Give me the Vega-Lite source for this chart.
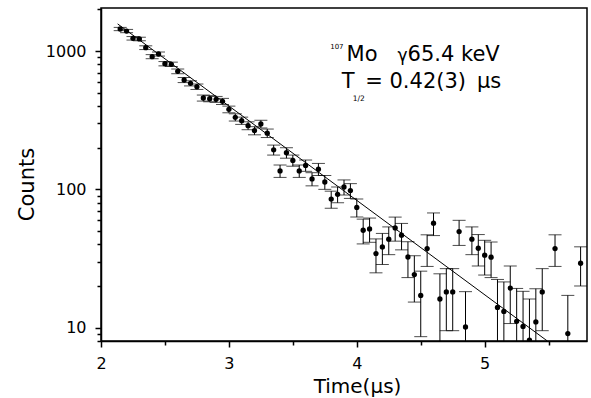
{
  "$schema": "https://vega.github.io/schema/vega-lite/v6.json",
  "width": 486,
  "height": 333,
  "autosize": {"type": "none"},
  "padding": {"left": 101, "top": 8, "right": 4, "bottom": 57},
  "background": "white",
  "config": {
    "view": {"stroke": "black", "strokeWidth": 1.5},
    "font": "DejaVu Sans",
    "axis": {
      "grid": false,
      "domainColor": "black",
      "domainWidth": 1.5,
      "tickColor": "black",
      "tickWidth": 1.5,
      "labelColor": "black",
      "titleColor": "black",
      "labelFont": "DejaVu Sans",
      "titleFont": "DejaVu Sans",
      "labelFontSize": 16,
      "titleFontSize": 20,
      "titleFontWeight": "normal"
    }
  },
  "datasets": {
    "pts": [
      {"t": 2.15, "n": 1445, "lo": 1406, "hi": 1484},
      {"t": 2.20, "n": 1397, "lo": 1359, "hi": 1435},
      {"t": 2.25, "n": 1238, "lo": 1202, "hi": 1274},
      {"t": 2.30, "n": 1224, "lo": 1188, "hi": 1260},
      {"t": 2.35, "n": 1059, "lo": 1026, "hi": 1092},
      {"t": 2.40, "n": 912, "lo": 881, "hi": 943},
      {"t": 2.45, "n": 953, "lo": 921, "hi": 985},
      {"t": 2.50, "n": 811, "lo": 782, "hi": 840},
      {"t": 2.55, "n": 803, "lo": 774, "hi": 832},
      {"t": 2.60, "n": 714, "lo": 686, "hi": 742},
      {"t": 2.65, "n": 618, "lo": 592, "hi": 644},
      {"t": 2.70, "n": 585, "lo": 560, "hi": 610},
      {"t": 2.75, "n": 553, "lo": 528, "hi": 578},
      {"t": 2.80, "n": 458, "lo": 435, "hi": 481},
      {"t": 2.85, "n": 453, "lo": 430, "hi": 476},
      {"t": 2.90, "n": 448, "lo": 426, "hi": 470},
      {"t": 2.95, "n": 433, "lo": 411, "hi": 455},
      {"t": 3.00, "n": 379, "lo": 358, "hi": 400},
      {"t": 3.05, "n": 332, "lo": 312, "hi": 352},
      {"t": 3.10, "n": 314, "lo": 295, "hi": 333},
      {"t": 3.15, "n": 289, "lo": 270, "hi": 308},
      {"t": 3.20, "n": 266, "lo": 248, "hi": 284},
      {"t": 3.25, "n": 297, "lo": 278, "hi": 316},
      {"t": 3.30, "n": 255, "lo": 237, "hi": 273},
      {"t": 3.35, "n": 193, "lo": 177, "hi": 209},
      {"t": 3.40, "n": 136, "lo": 122, "hi": 150},
      {"t": 3.45, "n": 184, "lo": 168, "hi": 200},
      {"t": 3.50, "n": 162, "lo": 147, "hi": 177},
      {"t": 3.55, "n": 136, "lo": 122, "hi": 150},
      {"t": 3.60, "n": 149, "lo": 135, "hi": 163},
      {"t": 3.65, "n": 119, "lo": 106, "hi": 132},
      {"t": 3.70, "n": 140, "lo": 126, "hi": 154},
      {"t": 3.75, "n": 113, "lo": 100, "hi": 126},
      {"t": 3.80, "n": 85, "lo": 73, "hi": 97},
      {"t": 3.85, "n": 92, "lo": 80, "hi": 104},
      {"t": 3.90, "n": 104, "lo": 91, "hi": 117},
      {"t": 3.95, "n": 98, "lo": 86, "hi": 110},
      {"t": 4.00, "n": 74, "lo": 63, "hi": 85},
      {"t": 4.05, "n": 50.6, "lo": 40.3, "hi": 60.9},
      {"t": 4.10, "n": 51.7, "lo": 41.4, "hi": 62.0},
      {"t": 4.15, "n": 34.3, "lo": 24.9, "hi": 43.8},
      {"t": 4.20, "n": 38.3, "lo": 28.6, "hi": 48.0},
      {"t": 4.25, "n": 43.6, "lo": 33.7, "hi": 53.5},
      {"t": 4.30, "n": 52.6, "lo": 42.2, "hi": 63.0},
      {"t": 4.35, "n": 46.6, "lo": 36.5, "hi": 56.7},
      {"t": 4.40, "n": 32.4, "lo": 23.0, "hi": 41.8},
      {"t": 4.45, "n": 24.2, "lo": 15.3, "hi": 33.1},
      {"t": 4.50, "n": 17.1, "lo": 8.6, "hi": 25.6},
      {"t": 4.55, "n": 37.3, "lo": 27.7, "hi": 46.9},
      {"t": 4.60, "n": 56.9, "lo": 46.3, "hi": 67.5},
      {"t": 4.65, "n": 16.1, "lo": 7.7, "hi": 24.5},
      {"t": 4.70, "n": 18.1, "lo": 9.5, "hi": 26.7},
      {"t": 4.75, "n": 18.1, "lo": 9.5, "hi": 26.7},
      {"t": 4.80, "n": 49.5, "lo": 39.3, "hi": 59.7},
      {"t": 4.85, "n": 10.1, "lo": 2.0, "hi": 18.2},
      {"t": 4.90, "n": 43.6, "lo": 33.7, "hi": 53.5},
      {"t": 4.95, "n": 37.5, "lo": 27.9, "hi": 47.1},
      {"t": 5.00, "n": 33.4, "lo": 24.0, "hi": 42.8},
      {"t": 5.05, "n": 32.3, "lo": 23.0, "hi": 41.6},
      {"t": 5.10, "n": 14.0, "lo": 5.7, "hi": 22.3},
      {"t": 5.15, "n": 13.1, "lo": 4.8, "hi": 21.4},
      {"t": 5.20, "n": 19.3, "lo": 10.7, "hi": 27.9},
      {"t": 5.25, "n": 11.1, "lo": 3.0, "hi": 19.2},
      {"t": 5.30, "n": 10.2, "lo": 2.1, "hi": 18.3},
      {"t": 5.35, "n": 8.1, "lo": 1, "hi": 16.1},
      {"t": 5.40, "n": 11.0, "lo": 2.9, "hi": 19.1},
      {"t": 5.45, "n": 18.1, "lo": 9.5, "hi": 26.7},
      {"t": 5.55, "n": 37.3, "lo": 27.7, "hi": 46.9},
      {"t": 5.65, "n": 9.05, "lo": 1.05, "hi": 17.1},
      {"t": 5.75, "n": 29.2, "lo": 20.0, "hi": 38.4}
    ],
    "fit": [
      {"t": 2.13, "n": 1573},
      {"t": 5.49, "n": 8}
    ],
    "one": [{}]
  },
  "layer": [
    {
      "data": {"name": "pts"},
      "mark": {"type": "rule", "color": "black", "strokeWidth": 1, "clip": true},
      "encoding": {
        "x": {
          "field": "t", "type": "quantitative",
          "scale": {"domain": [2, 5.8], "nice": false, "zero": false},
          "axis": {
            "title": "Time(μs)",
            "values": [2, 2.5, 3, 3.5, 4, 4.5, 5, 5.5],
            "labelExpr": "datum.value % 1 === 0 ? format(datum.value, 'd') : ''",
            "labelFlush": false,
            "labelOverlap": false,
            "labelPadding": 8,
            "tickSize": {"condition": {"test": "datum.value % 1 === 0", "value": 6}, "value": 4},
            "titleX": 256,
            "titleY": 51,
            "titleAlign": "center",
            "titleBaseline": "alphabetic"
          }
        },
        "y": {
          "field": "lo", "type": "quantitative",
          "scale": {"type": "log", "domain": [8, 2050], "nice": false},
          "axis": {
            "title": "Counts",
            "values": [8, 9, 10, 20, 30, 40, 50, 60, 70, 80, 90, 100, 200, 300, 400, 500, 600, 700, 800, 900, 1000, 2000],
            "labelExpr": "(datum.value == 10 || datum.value == 100 || datum.value == 1000) ? format(datum.value, 'd') : ''",
            "labelOverlap": false,
            "labelPadding": 9,
            "tickSize": {"condition": {"test": "datum.value == 10 || datum.value == 100 || datum.value == 1000", "value": 6}, "value": 4},
            "titleX": -68,
            "titleY": 176,
            "titleAngle": -90,
            "titleAlign": "center",
            "titleBaseline": "alphabetic",
            "titleFontSize": 21
          }
        },
        "y2": {"field": "hi"}
      }
    },
    {
      "data": {"name": "pts"},
      "mark": {"type": "tick", "orient": "horizontal", "color": "black", "size": 13, "thickness": 1, "clip": true},
      "encoding": {
        "x": {"field": "t", "type": "quantitative"},
        "y": {"field": "lo", "type": "quantitative"}
      }
    },
    {
      "data": {"name": "pts"},
      "mark": {"type": "tick", "orient": "horizontal", "color": "black", "size": 13, "thickness": 1, "clip": true},
      "encoding": {
        "x": {"field": "t", "type": "quantitative"},
        "y": {"field": "hi", "type": "quantitative"}
      }
    },
    {
      "data": {"name": "fit"},
      "mark": {"type": "line", "color": "black", "strokeWidth": 1, "clip": true},
      "encoding": {
        "x": {"field": "t", "type": "quantitative"},
        "y": {"field": "n", "type": "quantitative"}
      }
    },
    {
      "data": {"name": "pts"},
      "mark": {"type": "point", "filled": true, "color": "black", "size": 28, "opacity": 1, "clip": true},
      "encoding": {
        "x": {"field": "t", "type": "quantitative"},
        "y": {"field": "n", "type": "quantitative"}
      }
    },
    {
      "data": {"name": "one"},
      "mark": {"type": "text", "align": "left", "baseline": "alphabetic", "font": "DejaVu Sans", "fontSize": 7, "color": "black"},
      "encoding": {"x": {"datum": 3.792}, "y": {"datum": 1035}, "text": {"value": "107"}}
    },
    {
      "data": {"name": "one"},
      "mark": {"type": "text", "align": "left", "baseline": "alphabetic", "font": "DejaVu Sans", "fontSize": 21, "color": "black"},
      "encoding": {"x": {"datum": 3.92}, "y": {"datum": 853}, "text": {"value": "Mo"}}
    },
    {
      "data": {"name": "one"},
      "mark": {"type": "text", "align": "left", "baseline": "alphabetic", "font": "DejaVu Sans", "fontSize": 17, "color": "black"},
      "encoding": {"x": {"datum": 4.319}, "y": {"datum": 853}, "text": {"value": "γ"}}
    },
    {
      "data": {"name": "one"},
      "mark": {"type": "text", "align": "left", "baseline": "alphabetic", "font": "DejaVu Sans", "fontSize": 21, "color": "black"},
      "encoding": {"x": {"datum": 4.397}, "y": {"datum": 853}, "text": {"value": "65.4 keV"}}
    },
    {
      "data": {"name": "one"},
      "mark": {"type": "text", "align": "left", "baseline": "alphabetic", "font": "DejaVu Sans", "fontSize": 21, "color": "black"},
      "encoding": {"x": {"datum": 3.883}, "y": {"datum": 538}, "text": {"value": "T"}}
    },
    {
      "data": {"name": "one"},
      "mark": {"type": "text", "align": "left", "baseline": "alphabetic", "font": "DejaVu Sans", "fontSize": 7.5, "color": "black"},
      "encoding": {"x": {"datum": 3.969}, "y": {"datum": 437}, "text": {"value": "1/2"}}
    },
    {
      "data": {"name": "one"},
      "mark": {"type": "text", "align": "left", "baseline": "alphabetic", "font": "DejaVu Sans", "fontSize": 21, "color": "black"},
      "encoding": {"x": {"datum": 4.066}, "y": {"datum": 538}, "text": {"value": "= 0.42(3)"}}
    },
    {
      "data": {"name": "one"},
      "mark": {"type": "text", "align": "left", "baseline": "alphabetic", "font": "DejaVu Sans", "fontSize": 21, "color": "black"},
      "encoding": {"x": {"datum": 4.94}, "y": {"datum": 538}, "text": {"value": "μs"}}
    }
  ]
}
